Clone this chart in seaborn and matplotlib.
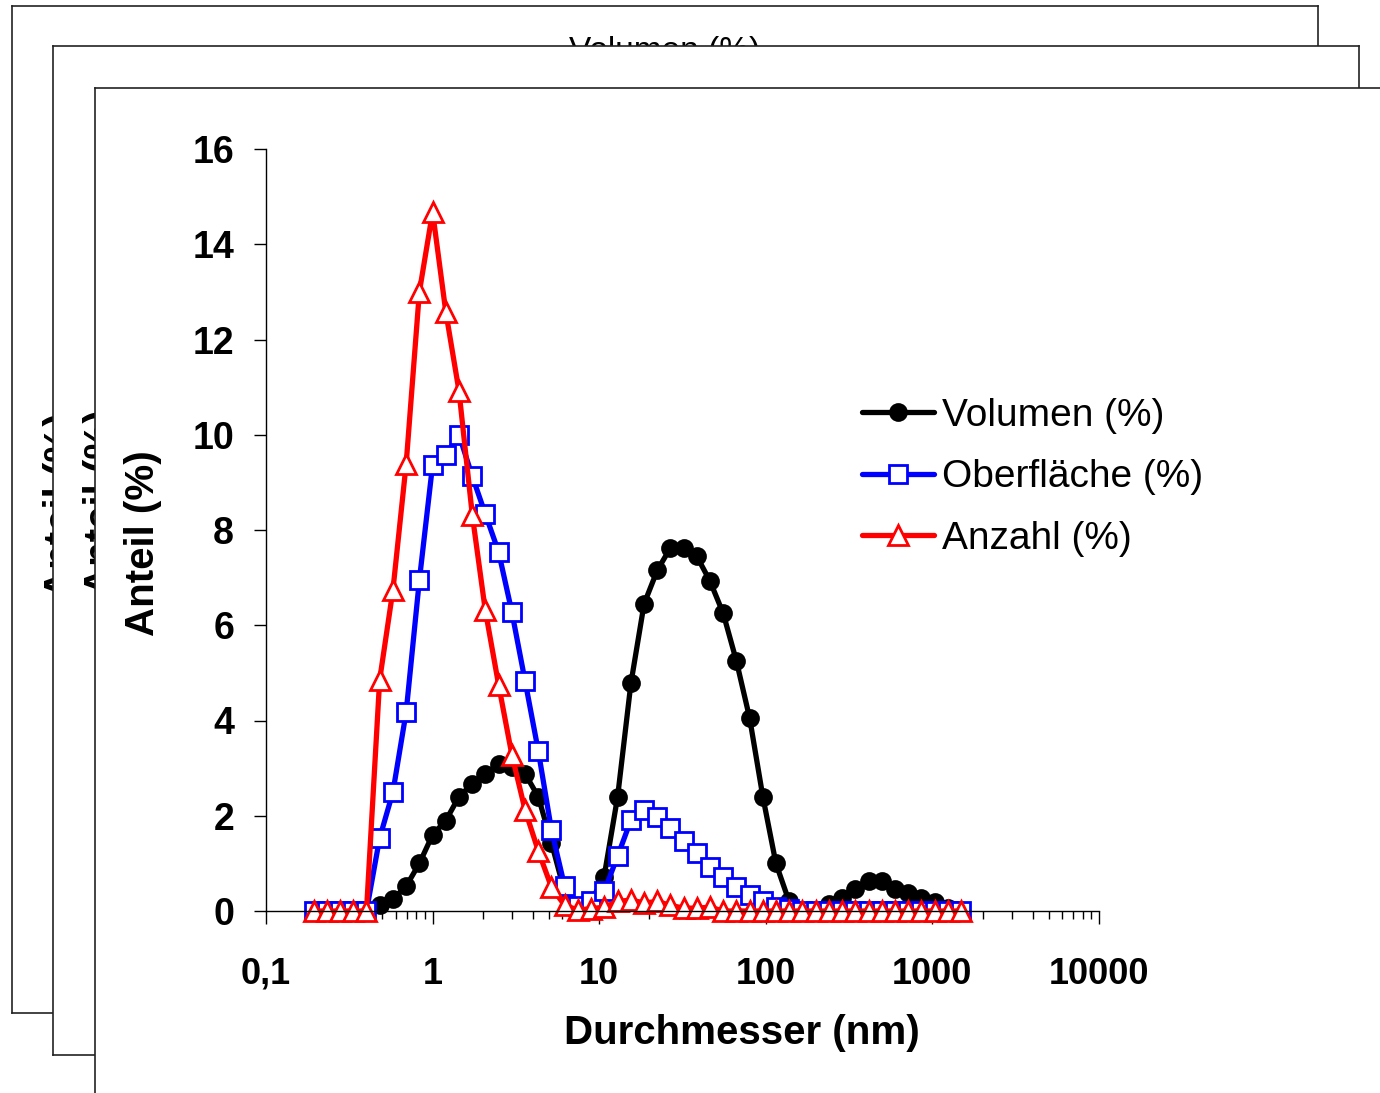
import numpy as np
import pandas as pd
import matplotlib
matplotlib.use("Agg")
import matplotlib.pyplot as plt
import seaborn as sns
from matplotlib.ticker import LogLocator, NullFormatter

# size classes (nm)
size_nm = [0.193, 0.232, 0.278, 0.334, 0.401, 0.481, 0.578, 0.694, 0.833, 1.00,
           1.20, 1.44, 1.73, 2.07, 2.49, 2.99, 3.59, 4.31, 5.17, 6.20,
           7.45, 8.94, 10.7, 12.9, 15.5, 18.6, 22.3, 26.7, 32.1, 38.5,
           46.2, 55.5, 66.6, 80.0, 96.0, 115, 138, 166, 199, 239,
           287, 345, 414, 497, 596, 715, 859, 1031, 1237, 1485]

volumen = [0, 0, 0, 0, 0, 0.12, 0.25, 0.52, 1.0, 1.6,
           1.9, 2.4, 2.67, 2.88, 3.08, 3.02, 2.88, 2.4, 1.43, 0.4,
           0.05, 0.2, 0.72, 2.4, 4.78, 6.45, 7.15, 7.62, 7.62, 7.45,
           6.93, 6.25, 5.25, 4.05, 2.4, 1.0, 0.2, 0, 0, 0.15,
           0.28, 0.46, 0.62, 0.62, 0.46, 0.38, 0.28, 0.18, 0.06, 0]

oberflaeche = [0, 0, 0, 0, 0, 1.53, 2.5, 4.18, 6.95, 9.37,
               9.58, 10.0, 9.13, 8.34, 7.54, 6.28, 4.83, 3.36, 1.7, 0.52,
               0.1, 0.22, 0.41, 1.15, 1.91, 2.12, 1.98, 1.74, 1.46, 1.21,
               0.93, 0.72, 0.51, 0.34, 0.2, 0.09, 0.04, 0, 0, 0,
               0, 0, 0, 0, 0, 0, 0, 0, 0, 0]

anzahl = [0, 0, 0, 0, 0, 4.85, 6.74, 9.39, 13.0, 14.68,
          12.58, 10.92, 8.32, 6.32, 4.75, 3.28, 2.12, 1.26, 0.5, 0.12,
          0.02, 0.05, 0.08, 0.2, 0.23, 0.17, 0.2, 0.12, 0.06, 0.06,
          0.08, 0, 0, 0, 0, 0, 0, 0, 0, 0,
          0, 0, 0, 0, 0, 0, 0, 0, 0, 0]

x_ticks = [0.1, 1, 10, 100, 1000, 10000]
x_tick_labels = ["0,1", "1", "10", "100", "1000", "10000"]
y_ticks = [0, 2, 4, 6, 8, 10, 12, 14, 16]

df = pd.DataFrame({"size": size_nm, "vol": volumen, "obf": oberflaeche, "anz": anzahl})

sns.set_theme(style="white")
plt.rcParams["font.family"] = ["Liberation Sans", "DejaVu Sans"]
plt.rcParams["text.color"] = "black"
plt.rcParams["axes.labelcolor"] = "black"

W, H = 1380, 1093
fig = plt.figure(figsize=(W / 100, H / 100), dpi=100)


def px_rect(x0, y0, x1, y1):
    return [x0 / W, 1 - y1 / H, (x1 - x0) / W, (y1 - y0) / H]


# stacked chart frames behind the main one
frames = []
for r in [(12, 6, 1318, 1013), (53, 46, 1359, 1055), (95, 88, 1700, 1400)]:
    f = fig.add_axes(px_rect(*r))
    f.set_facecolor("white")
    f.set_xticks([])
    f.set_yticks([])
    for s in f.spines.values():
        s.set_color("#222222")
        s.set_linewidth(1.2)
    frames.append(f)

frames[0].text(665 / W, 1 - 36 / H, "Volumen (%)", transform=fig.transFigure,
               ha="center", va="top", fontsize=24, clip_on=False)
frames[0].text(62 / W, 1 - 505 / H, "Anteil (%)", transform=fig.transFigure,
               ha="center", va="center", rotation=90, fontsize=29,
               fontweight="bold", clip_on=False)
frames[1].text(102 / W, 1 - 502 / H, "Anteil (%)", transform=fig.transFigure,
               ha="center", va="center", rotation=90, fontsize=29,
               fontweight="bold", clip_on=False)

# main plot
ax = fig.add_axes(px_rect(266, 149, 1099, 911))
ax.patch.set_alpha(0)
ax.set_xscale("log")

sns.lineplot(data=df, x="size", y="vol", ax=ax, color="black", lw=3.8,
             marker="o", markersize=12, markerfacecolor="black",
             markeredgecolor="black", markeredgewidth=1.5,
             label="Volumen (%)", clip_on=False)
sns.lineplot(data=df, x="size", y="obf", ax=ax, color="#0000ff", lw=3.8,
             marker="s", markersize=12.5, markerfacecolor="white",
             markeredgecolor="#0000ff", markeredgewidth=2,
             label="Oberfläche (%)", clip_on=False)
sns.lineplot(data=df, x="size", y="anz", ax=ax, color="#ff0000", lw=3.8,
             marker="^", markersize=14, markerfacecolor="white",
             markeredgecolor="#ff0000", markeredgewidth=2,
             label="Anzahl (%)", clip_on=False)

ax.set_xlim(0.1, 10000)
ax.set_ylim(0, 16)
ax.set_xticks(x_ticks)
ax.set_xticklabels(x_tick_labels)
ax.xaxis.set_minor_locator(LogLocator(base=10, subs=np.arange(2, 10)))
ax.xaxis.set_minor_formatter(NullFormatter())
ax.set_yticks(y_ticks)

sns.despine(ax=ax)
for s in ["left", "bottom"]:
    ax.spines[s].set_color("black")
    ax.spines[s].set_linewidth(1.0)

ax.tick_params(axis="both", which="both", left=True, bottom=True)
ax.tick_params(axis="both", which="major", direction="out", length=9, width=1,
               color="black", labelcolor="black")
ax.tick_params(axis="x", which="major", pad=24, labelsize=26)
ax.tick_params(axis="y", which="major", pad=14, labelsize=27)
ax.tick_params(axis="x", which="minor", direction="out", length=6, width=1,
               color="black")
for lab in ax.get_xticklabels() + ax.get_yticklabels():
    lab.set_fontweight("bold")

ax.set_xlabel("Durchmesser (nm)", fontsize=29, fontweight="bold", va="center")
ax.xaxis.set_label_coords((742 - 266) / 833, (911 - 1033) / 762)
ax.set_ylabel("Anteil (%)", fontsize=29, fontweight="bold", va="center")
ax.yaxis.set_label_coords((143 - 266) / 833, (911 - 543) / 762)

leg = ax.legend(loc="upper left", bbox_to_anchor=(862 / W, 1 - 398 / H),
                bbox_transform=fig.transFigure, frameon=False, fontsize=28,
                handlelength=1.85, handletextpad=0.22, labelspacing=0.65,
                borderpad=0, borderaxespad=0)
for t in leg.get_texts():
    t.set_color("black")

fig.savefig("out.png", dpi=100)
